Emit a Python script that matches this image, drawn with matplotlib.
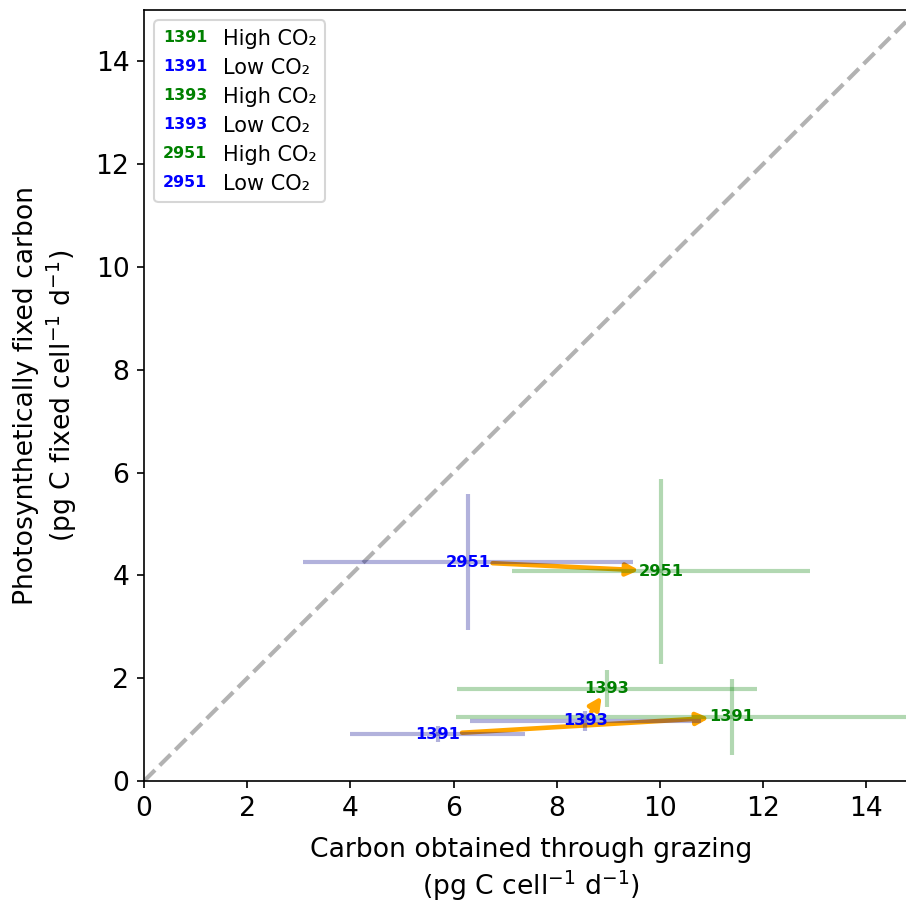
import matplotlib
matplotlib.use('Agg')
import matplotlib.pyplot as plt
import matplotlib.text as mtext
from matplotlib.legend_handler import HandlerBase

# strains and values (pg C cell-1 d-1)
cepas = ['1391', '1393', '2951']
graz_low = [5.69, 8.55, 6.28]
graz_low_err = [1.69, 2.24, 3.20]
fix_low = [0.91, 1.17, 4.26]
fix_low_err = [0.16, 0.20, 1.32]
graz_high = [11.39, 8.97, 10.03]
graz_high_err = [5.34, 2.91, 2.89]
fix_high = [1.25, 1.79, 4.08]
fix_high_err = [0.74, 0.36, 1.80]

col_high = 'green'
col_low = 'blue'


class TextoHandler(HandlerBase):
    # dibuja el nombre de la cepa como "marcador" de la leyenda
    def create_artists(self, legend, orig_handle, xdescent, ydescent,
                       width, height, fontsize, trans):
        t = mtext.Text(-xdescent, -ydescent + height / 2, orig_handle.get_text(),
                       color=orig_handle.get_color(), fontweight='bold',
                       fontsize=7.6, ha='left', va='center', transform=trans)
        return [t]


fig = plt.figure(figsize=(6.04, 6.04), dpi=150)
ax = fig.add_axes([0.159, 0.138, 0.854, 0.851])

ax.plot([0, 15], [0, 15], ls='--', color='gray', alpha=0.6, lw=2, zorder=1)

for i, c in enumerate(cepas):
    ax.errorbar(graz_low[i], fix_low[i], xerr=graz_low_err[i], yerr=fix_low_err[i],
                fmt='none', ecolor='darkblue', alpha=0.3, elinewidth=2, zorder=2)
    ax.errorbar(graz_high[i], fix_high[i], xerr=graz_high_err[i], yerr=fix_high_err[i],
                fmt='none', ecolor='green', alpha=0.3, elinewidth=2, zorder=2)
    t_low = ax.text(graz_low[i], fix_low[i], c, color=col_low, fontweight='bold',
                    fontsize=7.8, ha='center', va='center', zorder=3)
    t_high = ax.text(graz_high[i], fix_high[i], c, color=col_high, fontweight='bold',
                     fontsize=7.8, ha='center', va='center', zorder=3)
    # la flecha se recorta contra las cajas de los textos
    ax.annotate('', xy=(graz_high[i], fix_high[i]), xytext=(graz_low[i], fix_low[i]),
                arrowprops=dict(arrowstyle='-|>', color='orange', lw=2.2,
                                mutation_scale=12, patchA=t_low, patchB=t_high,
                                shrinkA=1, shrinkB=0),
                zorder=1.5)

ax.set_xlim(0, 15)
ax.set_ylim(0, 15)
ax.set_xticks(range(0, 15, 2))
ax.set_yticks(range(0, 15, 2))
ax.tick_params(labelsize=12.75)
ax.set_xlabel('Carbon obtained through grazing\n(pg C cell$^{-1}$ d$^{-1}$)',
              fontsize=12.75, labelpad=7.5)
ax.set_ylabel('Photosynthetically fixed carbon\n(pg C fixed cell$^{-1}$ d$^{-1}$)',
              fontsize=12.75, labelpad=8)

handles = []
labels = []
for c in cepas:
    handles.append(mtext.Text(text=c, color=col_high))
    labels.append('High CO₂')
    handles.append(mtext.Text(text=c, color=col_low))
    labels.append('Low CO₂')
ax.legend(handles, labels, handler_map={mtext.Text: TextoHandler()},
          loc='upper left', fontsize=10, labelspacing=0.43, handlelength=2.1)

# primer dibujo para que los textos tengan renderer antes de recortar flechas
fig.canvas.draw()
fig.savefig('out.png', dpi=150)
